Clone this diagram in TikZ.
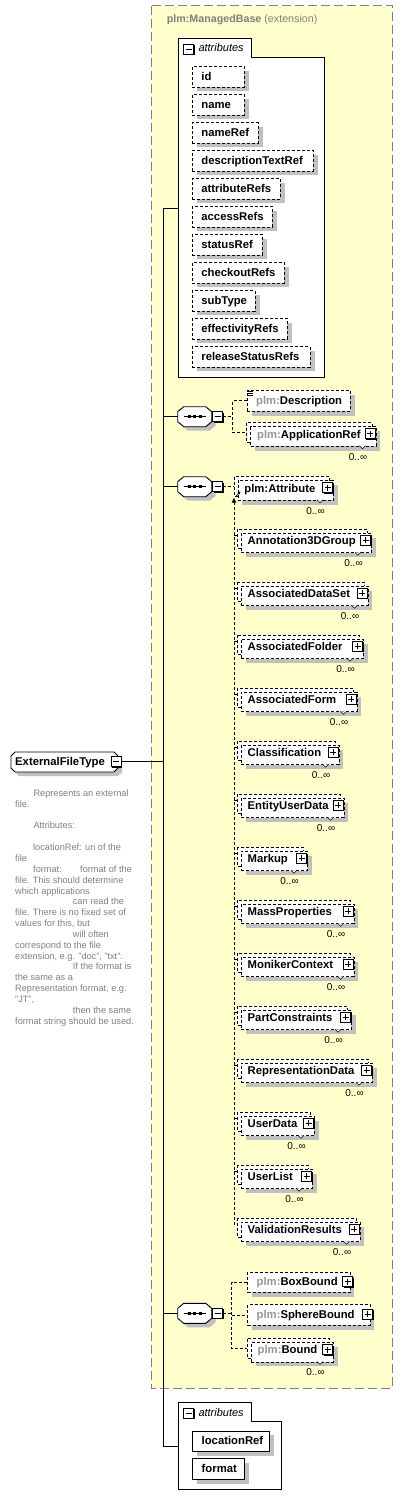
\documentclass[tikz,border=0pt]{standalone}
\usepackage{fontspec}
\setmainfont{Liberation Sans}
\usetikzlibrary{shadows,arrows.meta,calc}
\hyphenpenalty=10000
\exhyphenpenalty=10000
\definecolor{ybg}{RGB}{255,255,204}
\definecolor{bgray}{RGB}{128,128,128}
\definecolor{shgray}{RGB}{192,192,192}
\definecolor{tgray}{RGB}{128,128,128}
\definecolor{pgray}{RGB}{150,150,150}
\newcommand{\itf}{\bfseries\fontsize{11.3}{13}\selectfont}
\newcommand{\pfx}{\textcolor{pgray}{plm:}}
\tikzset{
  shd/.style={general shadow={fill=shgray, shadow xshift=4.5pt, shadow yshift=-4.5pt}},
  dsh/.style={dash pattern=on 3pt off 2pt},
  boxd/.style={draw, dsh, line width=0.8pt, fill=white, shd, anchor=north west,
     minimum height=20.5pt, inner xsep=9pt, inner ysep=0pt, text height=9pt, text depth=1.5pt,
     font=\itf, align=left},
  boxs/.style={boxd, solid},
  mbox/.style={draw, dsh, line width=0.8pt, fill=white, shd, anchor=north west,
     minimum height=19.5pt, inner xsep=6.5pt, inner ysep=0pt, text height=11.5pt, text depth=8pt,
     font=\itf, align=left},
  backbox/.style={draw, dsh, line width=0.8pt, fill=white},
  btn/.style={draw, fill=white, line width=0.9pt, minimum size=10pt, inner sep=0pt,
     general shadow={fill=black, shadow xshift=1pt, shadow yshift=-1pt}},
  minusbtn/.style={btn, path picture={\draw[line width=0.9pt]
     ([xshift=2pt]path picture bounding box.west) -- ([xshift=-2pt]path picture bounding box.east);}},
  plusbtn/.style={btn, path picture={\draw[line width=0.9pt]
     ([xshift=2pt]path picture bounding box.west) -- ([xshift=-2pt]path picture bounding box.east)
     ([yshift=-2pt]path picture bounding box.north) -- ([yshift=2pt]path picture bounding box.south);}},
  occ/.style={font=\fontsize{10}{12}\selectfont, inner sep=0pt},
  conn/.style={dsh, line width=0.8pt},
  trunkline/.style={line width=1pt},
  grp/.style={draw, line width=1pt, fill=white},
  grplabel/.style={font=\itshape\fontsize{11}{13}\selectfont, anchor=base west, inner sep=0pt},
  docnote/.style={font=\fontsize{9.2}{10.85}\selectfont, text=tgray, align=left, anchor=north west, inner sep=0pt},
}
% multi-occurrence element: name, L, T, R, content
\newcommand{\mbx}[5]{%
  \pgfmathsetmacro{\mytw}{#4-#2-16.5}%
  \path[backbox] (#2,#3) rectangle (#4-3.5,#3+19.5);
  \node[mbox, text width=\mytw pt] (#1) at (#2+3.5,#3+3.5) {#5};
  \draw[line width=0.6pt, fill=white] (#4-16,#3+23) -- (#4-13,#3+26) -- (#4-10,#3+23);
  \node[plusbtn] (#1b) at (#4-5.5,#3+11) {};
  \node[occ] (#1o) at (#4-17.5,#3+34) {0..∞};
  \coordinate (#1in) at (#2,#3+10);
  \coordinate (#1tk) at (#2,#3+6);
}
% single element with plus button: name, L, T, R, content
\newcommand{\sbx}[5]{%
  \pgfmathsetmacro{\mytw}{#4-#2-18}%
  \node[boxd, text width=\mytw pt] (#1) at (#2,#3) {#5};
  \node[plusbtn] (#1b) at (#4-2,#3+10) {};
}
% sequence compositor: name, left x, centre y
\newcommand{\seqc}[3]{%
  \node[inner sep=0pt, minimum width=34pt, minimum height=20pt] (#1) at (#2+17,#3) {};
  \fill[shgray] (#2+4,#3-1) -- (#2+10,#3-6) -- (#2+32,#3-6) -- (#2+38,#3-1) -- (#2+38,#3+9) -- (#2+32,#3+14) -- (#2+10,#3+14) -- (#2+4,#3+9) -- cycle;
  \draw[line width=0.9pt, fill=white] (#2,#3-5) -- (#2+6,#3-10) -- (#2+28,#3-10) -- (#2+34,#3-5) -- (#2+34,#3+5) -- (#2+28,#3+10) -- (#2+6,#3+10) -- (#2,#3+5) -- cycle;
  \draw[line width=0.9pt] (#2+6,#3) -- (#2+28,#3);
  \foreach \dx in {11.5,17,22.5} \fill (#2+\dx-1.5,#3-1.5) rectangle ++(3,3);
  \node[minusbtn] (#1b) at (#2+40,#3) {};
}
\begin{document}
\begin{tikzpicture}[x=1pt, y=-1pt]
\useasboundingbox (0,0) rectangle (403,1507);
\fill[white] (0,0) rectangle (403,1507);

% extension area
\draw[fill=ybg, draw=bgray, line width=1pt, dash pattern=on 9pt off 4pt] (151,5.7) rectangle (392,1388);
\node[anchor=base west, inner sep=0pt, text=bgray, font=\fontsize{10.7}{13}\selectfont] (title) at (166.7,22.8) {\textbf{plm:ManagedBase} (extension)};

% trunk
\coordinate (tkT) at (163,208);
\coordinate (tkB) at (163,1446);
\draw[trunkline] (tkT) -- (tkB);

% attributes group (ManagedBase)
\path[grp] (178,38.3) -- (251,38.3) -- (251,57.3) -- (324,57.3) -- (324,377) -- (178,377) -- cycle;
\coordinate (ga1) at (178,208);
\node[minusbtn] (ga1b) at (188.7,49.3) {};
\node[grplabel] (ga1l) at (198.3,51.9) {attributes};
\draw[trunkline] (tkT) -- (ga1);
\node[boxd, text width=34pt] (aid) at (192,66) {id};
\node[boxd, text width=34pt] (aname) at (192,94) {name};
\node[boxd, text width=47.7pt] (anameref) at (192,122) {nameRef};
\node[boxd, text width=103pt] (adesc) at (192,150) {descriptionTextRef};
\node[boxd, text width=70pt] (aattr) at (192,178) {attributeRefs};
\node[boxd, text width=62pt] (aacc) at (192,206) {accessRefs};
\node[boxd, text width=52pt] (astat) at (192,234) {statusRef};
\node[boxd, text width=74pt] (achk) at (192,262) {checkoutRefs};
\node[boxd, text width=44.7pt] (asub) at (192,290) {subType};
\node[boxd, text width=77pt] (aeff) at (192,318) {effectivityRefs};
\node[boxd, text width=99.7pt] (arel) at (192,346) {releaseStatusRefs};

% sequence 1
\seqc{s1}{177.7}{416.7}
\draw[trunkline] (s1 -| tkT) -- (s1.west);
\pgfmathsetmacro{\mytw}{350-246.7-18}
\node[boxd, text width=\mytw pt] (desc) at (246.7,390.1) {\pfx Description};
\foreach \yy in {391,393.2,395.4} \draw[line width=0.6pt] (247.6,\yy) -- (252.6,\yy);
\mbx{appref}{246.7}{422.7}{375.5}{\pfx ApplicationRef}
\coordinate (j1) at (232.7,416.7);
\draw[conn] (s1b.east) -- (j1);
\draw[conn] (desc.west) -| (j1) |- (apprefin);

% sequence 2
\seqc{s2}{177.7}{486.7}
\draw[trunkline] (s2 -| tkT) -- (s2.west);
\mbx{pattr}{234}{476.7}{333}{plm:Attribute}
\draw[conn] (s2b.east) -- (s2b.east -| pattrin);
\draw[line width=0.7pt, -{Stealth[length=3pt,width=3pt]}] (235.8,496.2) -- (240.5,491.5);

\mbx{ann}{237.3}{529.3}{371}{Annotation3DGroup}
\mbx{ads}{237.3}{529.3+53*1}{367.5}{AssociatedDataSet}
\mbx{afo}{237.3}{529.3+53*2}{363}{AssociatedFolder}
\mbx{afm}{237.3}{529.3+53*3}{356.5}{AssociatedForm}
\mbx{cls}{237.3}{529.3+53*4}{338.5}{Classification}
\mbx{eud}{237.3}{529.3+53*5}{343.5}{EntityUserData}
\mbx{mku}{237.3}{529.3+53*6}{307}{Markup}
\mbx{msp}{237.3}{529.3+53*7}{353.5}{MassProperties}
\mbx{mnc}{237.3}{529.3+53*8}{353.5}{MonikerContext}
\mbx{pcs}{237.3}{529.3+53*9}{351}{PartConstraints}
\mbx{rpd}{237.3}{529.3+53*10}{372}{RepresentationData}
\mbx{usd}{237.3}{529.3+53*11}{314}{UserData}
\mbx{usl}{237.3}{529.3+53*12}{312}{UserList}
\mbx{vlr}{237.3}{529.3+53*13}{359.5}{ValidationResults}
\coordinate (subTop) at (234,498);
\draw[conn, {Triangle[length=4.5pt,width=4.5pt]}-] (subTop) |- (vlrtk);
\foreach \n in {ann,ads,afo,afm,cls,eud,mku,msp,mnc,pcs,rpd,usd,usl}
  \draw[conn] (subTop |- \n tk) -- (\n tk);

% sequence 3
\seqc{s3}{177.7}{1313.3}
\draw[trunkline] (s3 -| tkT) -- (s3.west);
\sbx{boxb}{247.3}{1271.5}{349.5}{\pfx BoxBound}
\sbx{sphb}{247.3}{1304.3}{369.5}{\pfx SphereBound}
\mbx{bnd}{247.3}{1338.5}{333}{\pfx Bound}
\coordinate (j3) at (231.7,1313.3);
\draw[conn] (s3b.east) -- (j3);
\draw[conn] (boxb.west) -| (j3) |- (bndin);
\draw[conn] (j3 |- sphb.west) -- (sphb.west);

% own attributes group
\path[grp] (178,1402.7) -- (251,1402.7) -- (251,1421.7) -- (281.3,1421.7) -- (281.3,1489.3) -- (178,1489.3) -- cycle;
\coordinate (ga2) at (178,1446);
\node[minusbtn] (ga2b) at (188.7,1413.3) {};
\node[grplabel] (ga2l) at (198.3,1416.2) {attributes};
\draw[trunkline] (tkB) -- (ga2);
\node[boxs, text width=59pt] (locref) at (192.3,1430.5) {locationRef};
\node[boxs, text width=34pt] (fmt) at (192.3,1458.3) {format};

% root element
\fill[shgray] (15,760) -- (19,756) -- (118,756) -- (122,760) -- (122,772) -- (118,776) -- (19,776) -- (15,772) -- cycle;
\draw[line width=0.9pt, fill=white] (11,756) -- (15,752) -- (114,752) -- (118,756) -- (118,768) -- (114,772) -- (15,772) -- (11,768) -- cycle;
\node[font=\itf, anchor=base west, inner sep=0pt] (eft) at (15,765.6) {ExternalFileType};
\node[minusbtn] (eftb) at (116,761.7) {};
\draw[trunkline] (eftb.east) -- (eftb.east -| tkT);

% documentation
\node[docnote] (doc) at (15,789.5) {%
\hspace*{18.3pt}Represents an external\\
file.\\[10.85pt]
\hspace*{18.3pt}Attributes:\\[10.85pt]
\hspace*{18pt}locationRef: uri of the\\
file\\
\hspace*{18pt}\makebox[47pt][l]{format:}format of the\\
file. This should determine\\
which applications\\
\hspace*{57.7pt}can read the\\
file. There is no fixed set of\\
values for this, but\\
\hspace*{57.7pt}will often\\
correspond to the file\\
extension, e.g. "doc", "txt".\\
\hspace*{57.7pt}If the format is\\
the same as a\\
Representation format, e.g.\\
"JT",\\
\hspace*{57.7pt}then the same\\
format string should be used.};
\end{tikzpicture}
\end{document}
